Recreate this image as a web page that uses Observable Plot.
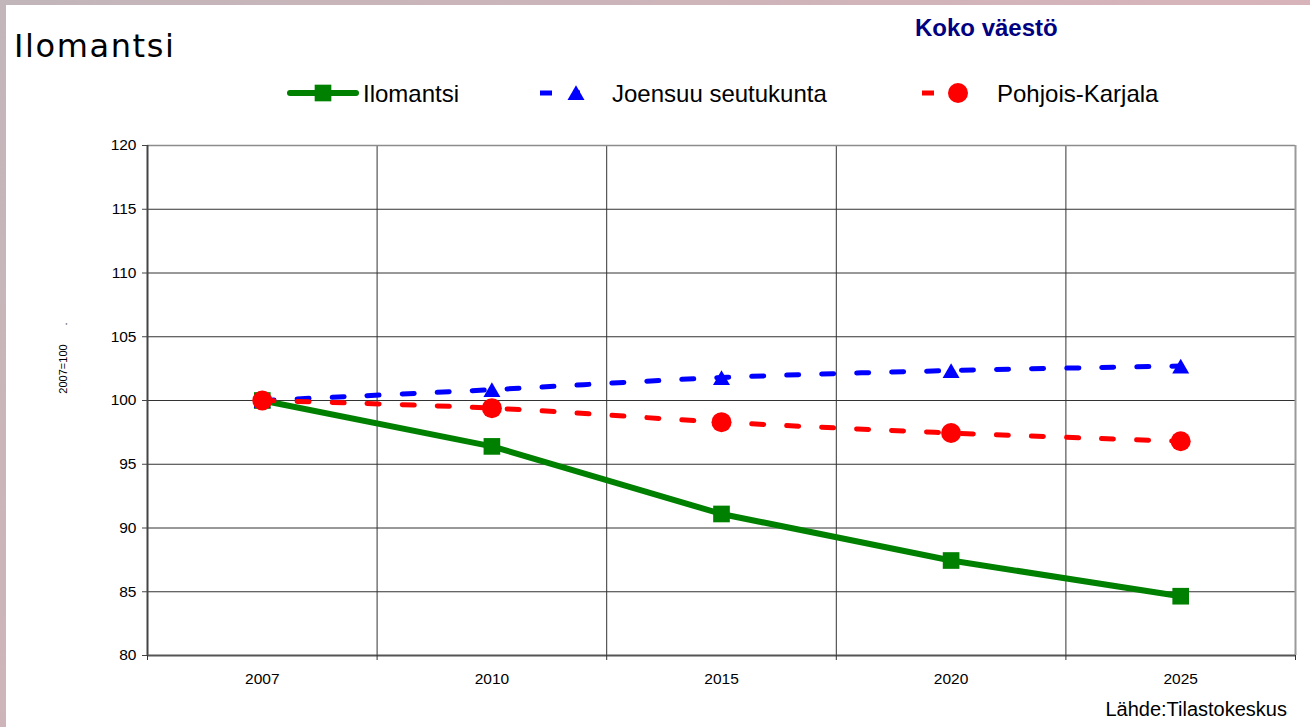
<!DOCTYPE html>
<html>
<head>
<meta charset="utf-8">
<script src="https://cdn.jsdelivr.net/npm/d3@7"></script>
<script src="https://cdn.jsdelivr.net/npm/@observablehq/plot@0.6"></script>
<style>
  html, body { margin: 0; padding: 0; }
  body { width: 1310px; height: 727px; overflow: hidden; position: relative;
         background: linear-gradient(135deg, #c2b6ba 0%, #d6b4ba 60%, #e0b0b8 100%); }
  #frame { position: absolute; left: 6px; top: 5px; width: 1304px; height: 722px; background: #fff; }
  #chart { position: absolute; left: 0; top: 0; }
  #overlay { position: absolute; left: 0; top: 0; pointer-events: none; }
</style>
</head>
<body>
<div id="frame"><div id="chart"></div></div>
<svg id="overlay" width="1310" height="727"></svg>
<script>
// ---- data ----
const years = ["2007", "2010", "2015", "2020", "2025"];
const ilomantsi = [100, 96.4, 91.1, 87.45, 84.65];
const joensuu = [100, 100.85, 101.8, 102.35, 102.7];
const pohjoisKarjala = [100, 99.4, 98.3, 97.45, 96.8];
const yTicks = [80, 85, 90, 95, 100, 105, 110, 115, 120];
const seriesNames = ["Ilomantsi", "Joensuu seutukunta", "Pohjois-Karjala"];
const titleText = "Ilomantsi";
const subtitleText = "Koko väestö";
const yLabel = "2007=100";
const captionText = "Lähde:Tilastokeskus";

const rows = years.map((yr, i) => ({
  i, year: yr,
  ilomantsi: ilomantsi[i], joensuu: joensuu[i], pk: pohjoisKarjala[i]
}));
const boundaries = d3.range(years.length + 1).map(k => k - 0.5);

const GREEN = "#008000", BLUE = "#0000ff", RED = "#ff0000";
const FONT = "'Liberation Sans', Arial, sans-serif";

const chart = Plot.plot({
  width: 1304,
  height: 722,
  marginLeft: 141,
  marginRight: 15,
  marginTop: 140,
  marginBottom: 72,
  style: { background: "transparent", fontFamily: FONT, fontSize: "15.5px", color: "#000", overflow: "visible" },
  x: { type: "linear", domain: [-0.5, years.length - 0.5] },
  y: { domain: [80, 120] },
  marks: [
    // horizontal gridlines
    Plot.ruleY(yTicks.filter(v => v > 80 && v < 120), { stroke: "#333", strokeWidth: 1 }),
    // vertical gridlines at category boundaries
    Plot.ruleX(boundaries.slice(1, -1), { y1: 80, y2: 120, stroke: "#333", strokeWidth: 1 }),
    // frame
    Plot.ruleY([120], { stroke: "#8c8c8c", strokeWidth: 1.5 }),
    Plot.ruleX([years.length - 0.5], { y1: 80, y2: 120, stroke: "#9a9a9a", strokeWidth: 2 }),
    Plot.ruleX([-0.5], { y1: 80, y2: 120, stroke: "#444", strokeWidth: 2 }),
    Plot.ruleY([80], { stroke: "#555", strokeWidth: 2 }),
    // axes
    Plot.axisY({ ticks: yTicks, tickSize: 5, tickPadding: 6, tickFormat: d => String(d), label: null, stroke: "#444" }),
    Plot.axisX({ ticks: boundaries, tickSize: 5, tickFormat: () => "", label: null, stroke: "#333" }),
    Plot.axisX({ ticks: d3.range(years.length), tickSize: 0, tickPadding: 17, tickFormat: i => years[i], label: null }),
    // Ilomantsi
    Plot.line(rows, { x: "i", y: "ilomantsi", stroke: GREEN, strokeWidth: 6 }),
    Plot.dot(rows, { x: "i", y: "ilomantsi", symbol: "square", r: 9.4, fill: GREEN }),
    // Joensuu seutukunta
    Plot.line(rows, { x: "i", y: "joensuu", stroke: BLUE, strokeWidth: 5, strokeDasharray: "12,23", curve: "catmull-rom" }),
    Plot.dot(rows, { x: "i", y: "joensuu", symbol: "triangle", r: 6.3, fill: BLUE, dy: 2.5 }),
    // Pohjois-Karjala
    Plot.line(rows, { x: "i", y: "pk", stroke: RED, strokeWidth: 5, strokeDasharray: "12,23", curve: "catmull-rom" }),
    Plot.dot(rows, { x: "i", y: "pk", symbol: "circle", r: 10, fill: RED })
  ]
});
document.getElementById("chart").appendChild(chart);

// ---- titles, legend, caption ----
const ov = d3.select("#overlay");
ov.append("text").attr("x", 14).attr("y", 57)
  .attr("font-family", "'DejaVu Sans', Verdana, sans-serif").attr("font-size", 32)
  .attr("font-weight", "normal").attr("letter-spacing", 1.6).attr("fill", "#000").text(titleText);
ov.append("text").attr("x", 915).attr("y", 36)
  .attr("font-family", FONT).attr("font-size", 24).attr("font-weight", "bold")
  .attr("fill", "#000080").text(subtitleText);

// legend
const legendItems = [
  { name: seriesNames[0], color: GREEN, symbol: d3.symbolSquare, r: 9.4, x0: 290, x1: 356, mx: 323, tx: 363, dash: null, w: 6, dy: 0 },
  { name: seriesNames[1], color: BLUE, symbol: d3.symbolTriangle, r: 6.3, x0: 540, x1: 580, mx: 576, tx: 612, dash: "12,23", w: 5, dy: 2 },
  { name: seriesNames[2], color: RED, symbol: d3.symbolCircle, r: 10, x0: 922, x1: 958, mx: 958, tx: 997, dash: "12,23", w: 5, dy: 0 }
];
const ly = 93;
for (const it of legendItems) {
  const l = ov.append("line").attr("x1", it.x0).attr("x2", it.x1).attr("y1", ly).attr("y2", ly)
    .attr("stroke", it.color).attr("stroke-width", it.w);
  if (it.dash) l.attr("stroke-dasharray", it.dash); else l.attr("stroke-linecap", "round");
  ov.append("path").attr("d", d3.symbol(it.symbol, Math.PI * it.r * it.r)())
    .attr("transform", `translate(${it.mx},${ly + it.dy})`).attr("fill", it.color);
  ov.append("text").attr("x", it.tx).attr("y", ly + 9)
    .attr("font-family", FONT).attr("font-size", 24).attr("fill", "#000").text(it.name);
}

// y label (rotated)
ov.append("text").attr("transform", "translate(67,369) rotate(-90)")
  .attr("text-anchor", "middle").attr("font-family", FONT).attr("font-size", 11)
  .attr("fill", "#000").text(yLabel);
ov.append("text").attr("transform", "translate(67,324) rotate(-90)")
  .attr("text-anchor", "middle").attr("font-family", FONT).attr("font-size", 11)
  .attr("fill", "#000").text(".");

// caption
ov.append("text").attr("x", 1287).attr("y", 716).attr("text-anchor", "end")
  .attr("font-family", FONT).attr("font-size", 20).attr("fill", "#000").text(captionText);
</script>
</body>
</html>
